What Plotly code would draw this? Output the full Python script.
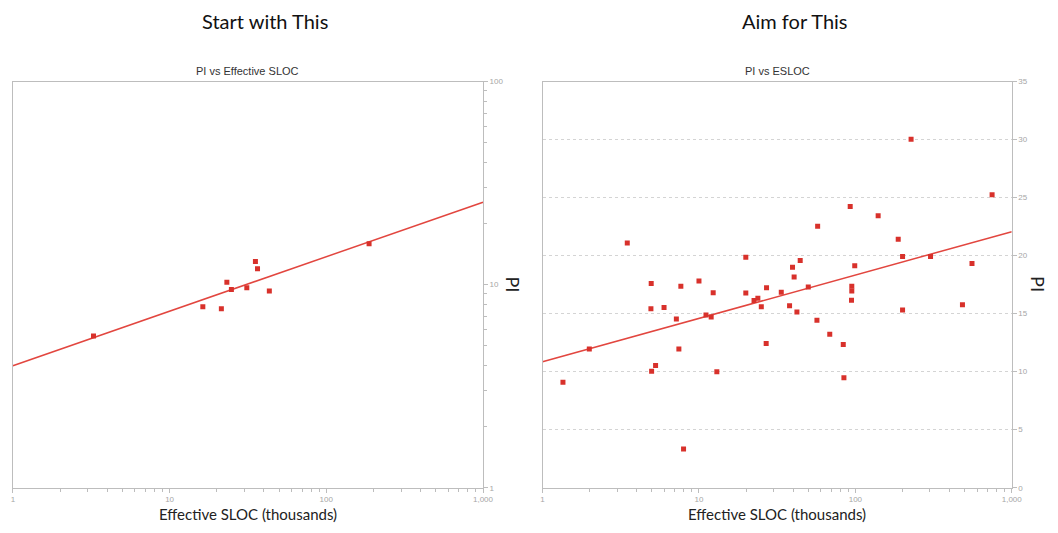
import numpy as np
import plotly.graph_objects as go

# ---- data -------------------------------------------------------------
# Left chart: PI vs Effective SLOC, log-log
start_esloc = [3.27, 16.3, 21.4, 23.2, 24.8, 31.1, 35.3, 36.4, 43.3, 187.5]
start_pi = [5.59, 7.78, 7.61, 10.28, 9.48, 9.65, 13.0, 11.98, 9.3, 15.9]

# Right chart: PI vs ESLOC, log x / linear y
aim_esloc = [1.35, 1.99, 3.48, 4.95, 4.93, 4.98, 5.28, 5.98, 7.17, 7.44,
             7.66, 7.97, 10.0, 11.09, 11.97, 12.33, 13.01, 19.93, 19.93, 22.5,
             23.8, 25.04, 27.05, 26.9, 33.6, 37.96, 39.65, 40.6, 42.3, 44.4,
             50.0, 57.4, 56.8, 68.6, 83.7, 84.5, 92.7, 94.5, 94.9, 94.9,
             99.1, 139.9, 188.0, 200.4, 200.4, 227.2, 302.5, 484.0, 557.0, 748.8]
aim_pi = [9.09, 11.95, 21.1, 17.6, 15.42, 10.03, 10.53, 15.53, 14.55, 11.95,
          17.37, 3.33, 17.82, 14.89, 14.72, 16.81, 10.0, 19.86, 16.78, 16.13,
          16.33, 15.59, 17.23, 12.43, 16.84, 15.68, 19.01, 18.16, 15.14, 19.58,
          17.31, 22.54, 14.43, 13.22, 12.35, 9.47, 24.24, 16.16, 16.95, 17.37,
          19.13, 23.45, 21.42, 19.94, 15.31, 30.03, 19.94, 15.76, 19.32, 25.25]

x_span = [1, 1000]
x_ticks = [1, 10, 100, 1000]
x_tick_text = ["1", "10", "100", "1,000"]
log_minor_1_1000 = [m * d for d in (1, 10, 100) for m in range(2, 10)]
start_y_ticks = [1, 10, 100]
start_y_tick_text = ["1", "10", "100"]
log_minor_1_100 = [m * d for d in (1, 10) for m in range(2, 10)]
aim_y_ticks = [0, 5, 10, 15, 20, 25, 30, 35]

# ---- trend lines ------------------------------------------------------
xs = np.array(x_span, dtype=float)
b1, a1 = np.polyfit(np.log10(start_esloc), np.log10(start_pi), 1)
start_fit = 10 ** (a1 + b1 * np.log10(xs))
b2, a2 = np.polyfit(np.log10(aim_esloc), aim_pi, 1)
aim_fit = a2 + b2 * np.log10(xs)

RED = "#d8312b"
LINE_RED = "#e2463f"
AXIS = "#bdbdbd"
TICK_FONT = dict(family="Liberation Sans, Arial, sans-serif", size=8, color="#a6a6a6")

fig = go.Figure()
fig.add_trace(go.Scatter(x=xs, y=start_fit, mode="lines",
                         line=dict(color=LINE_RED, width=1.5),
                         xaxis="x", yaxis="y", hoverinfo="skip"))
fig.add_trace(go.Scatter(x=start_esloc, y=start_pi, mode="markers",
                         marker=dict(symbol="square", size=5, color=RED),
                         xaxis="x", yaxis="y"))
fig.add_trace(go.Scatter(x=xs, y=aim_fit, mode="lines",
                         line=dict(color=LINE_RED, width=1.5),
                         xaxis="x2", yaxis="y2", hoverinfo="skip"))
fig.add_trace(go.Scatter(x=aim_esloc, y=aim_pi, mode="markers",
                         marker=dict(symbol="square", size=5, color=RED),
                         xaxis="x2", yaxis="y2"))

W, H = 1058, 533


def px_x(p):
    return p / W


def px_y(p):
    return 1 - p / H


common_x = dict(type="log", range=[0, 3], tickmode="array", tickvals=x_ticks,
                ticktext=x_tick_text, ticks="outside", ticklen=4, tickcolor=AXIS,
                showline=True, linecolor=AXIS, linewidth=1, mirror=True,
                showgrid=False, zeroline=False, tickfont=TICK_FONT,
                minor=dict(tickvals=log_minor_1_1000, ticks="outside",
                           ticklen=3, tickcolor=AXIS, showgrid=False))

fig.update_layout(
    width=W, height=H,
    margin=dict(l=0, r=0, t=0, b=0),
    paper_bgcolor="white", plot_bgcolor="white",
    showlegend=False,
    xaxis=dict(domain=[px_x(11), px_x(487)], anchor="y", **common_x),
    yaxis=dict(domain=[px_y(492), px_y(79)], anchor="x", side="right",
               type="log", range=[0, 2], tickmode="array",
               tickvals=start_y_ticks, ticktext=start_y_tick_text,
               ticks="outside", ticklen=4, tickcolor=AXIS,
               showline=True, linecolor=AXIS, linewidth=1, mirror=True,
               showgrid=False, zeroline=False, tickfont=TICK_FONT,
               minor=dict(tickvals=log_minor_1_100, ticks="outside",
                          ticklen=3, tickcolor=AXIS, showgrid=False)),
    xaxis2=dict(domain=[px_x(547.3), px_x(1022.3)], anchor="y2", **common_x),
    yaxis2=dict(domain=[px_y(492), px_y(79)], anchor="x2", side="right",
                range=[0, 35], tickmode="array", tickvals=aim_y_ticks,
                ticks="outside", ticklen=4, tickcolor=AXIS,
                showline=True, linecolor=AXIS, linewidth=1, mirror=True,
                showgrid=True, gridcolor="#d4d4d4", griddash="dot", gridwidth=1,
                zeroline=False, tickfont=TICK_FONT),
)

annotations = [
    dict(text="Start with This", x=px_x(266), y=px_y(17),
         font=dict(family="Lato, Open Sans, sans-serif", size=20, color="#111")),
    dict(text="Aim for This", x=px_x(803), y=px_y(17),
         font=dict(family="Lato, Open Sans, sans-serif", size=20, color="#111")),
    dict(text="PI vs Effective SLOC", x=px_x(249), y=px_y(68),
         font=dict(family="Liberation Sans, Arial, sans-serif", size=11, color="#333")),
    dict(text="PI vs ESLOC", x=px_x(785), y=px_y(68),
         font=dict(family="Liberation Sans, Arial, sans-serif", size=11, color="#333")),
    dict(text="Effective SLOC (thousands)", x=px_x(249), y=px_y(519),
         font=dict(family="Lato, Open Sans, sans-serif", size=15, color="#222")),
    dict(text="Effective SLOC (thousands)", x=px_x(785), y=px_y(519),
         font=dict(family="Lato, Open Sans, sans-serif", size=15, color="#222")),
    dict(text="PI", x=px_x(517), y=px_y(285), textangle=90,
         font=dict(family="Lato, Open Sans, sans-serif", size=18, color="#222")),
    dict(text="PI", x=px_x(1049), y=px_y(285), textangle=90,
         font=dict(family="Lato, Open Sans, sans-serif", size=18, color="#222")),
]
for a in annotations:
    a.update(xref="paper", yref="paper", xanchor="center", yanchor="middle",
             showarrow=False)
fig.update_layout(annotations=annotations)

fig.write_html("out.html")
